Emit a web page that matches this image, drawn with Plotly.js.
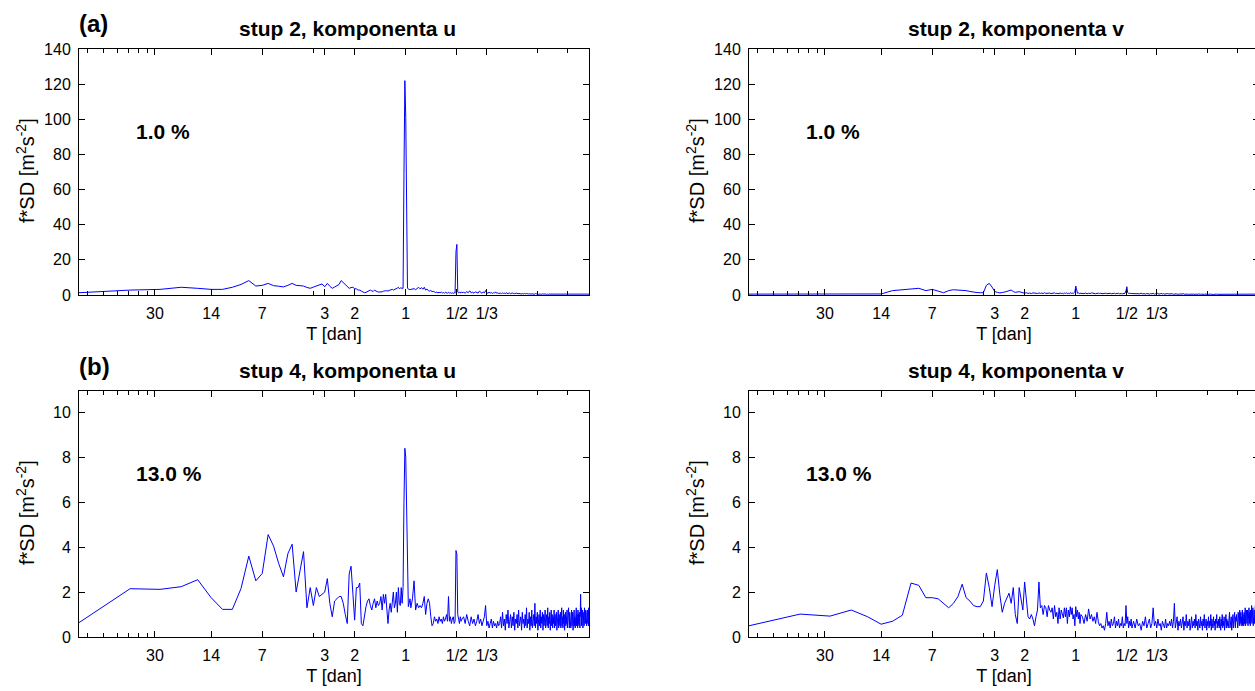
<!DOCTYPE html>
<html><head><meta charset="utf-8">
<script src="https://cdn.plot.ly/plotly-3.0.1.min.js"></script>
<style>html,body{margin:0;padding:0;overflow:hidden;background:#fff}#chart{width:1260px;height:691px}</style>
</head><body><div id="chart"></div><script>
// ---- sampling of the spectra: Fourier harmonics k/RECORD_DAYS (cycles per day) ----
const RECORD_DAYS = 84;
const SEG1 = {start: 1, step: 1};    // harmonics 1..90
const SEG2 = {start: 92, step: 2};   // harmonics 92..180
const SEG3 = {start: 184, step: 4};  // harmonics 184..1008

// ---- x-axis ticks (periods in days) ----
const tickPeriods = [30, 14, 7, 3, 2, 1, 1/2, 1/3];
const tickLabels  = ['30', '14', '7', '3', '2', '1', '1/2', '1/3'];
const minorTickPeriods = [75, 60, 50, 42.857, 37.5, 33.333, 3.5, 1/6, 1/9];

// ---- panel texts ----
const panelTitles = ['stup 2, komponenta u', 'stup 2, komponenta v', 'stup 4, komponenta u', 'stup 4, komponenta v'];
const panelPercent = ['1.0 %', '1.0 %', '13.0 %', '13.0 %'];
const rowLetters = ['(a)', '(b)'];
const xTitle = 'T [dan]';
const yTitle = 'f*SD [m<sup>2</sup>s<sup>-2</sup>]';
const yTicksTop = [0, 20, 40, 60, 80, 100, 120, 140];
const yTicksBottom = [0, 2, 4, 6, 8, 10];

// ---- stup 2, komponenta u ----
const stup2_u_seg1 = [1.3,2.8,3.2,4.4,3.8,3.2,3.2,4.4,6.0,8.2,
5.1,5.5,6.6,5.3,5.0,4.6,5.5,6.6,5.5,5.3,
5.1,4.3,3.8,4.5,5.1,5.3,6.3,4.7,6.6,5.0,
3.8,4.5,5.1,6.0,8.2,7.0,5.7,4.6,3.8,4.2,
4.4,3.6,3.5,2.8,2.8,2.2,1.8,1.3,1.5,2.0,
2.5,2.8,2.4,2.0,2.8,2.2,1.9,1.7,1.7,2.0,
1.8,2.2,2.5,2.4,2.5,2.2,2.6,2.8,3.0,3.2,
2.8,3.0,3.3,3.6,4.0,4.4,3.6,4.0,3.8,3.8,
3.8,69,122,101,42,3.8,3.5,3.2,3.0,3.2];
const stup2_u_seg2 = [3.2,3.6,3.0,3.8,4.4,3.5,4.2,3.3,4.4,2.8,
3.4,2.5,2.2,2.6,1.9,2.1,1.7,1.4,1.6,1.2,
1.5,1.3,1.7,1.1,1.4,1.0,1.5,1.2,1.0,1.6,
1.1,1.3,1.0,1.2,0.9,1.4,1.0,24.7,28.8,1.7,
1.2,1.5,1.1,1.8,1.3];
const stup2_u_seg3 = [1.5,1.1,1.9,1.3,2.4,1.2,1.6,1.0,1.8,1.3,
1.1,2.2,1.4,1.0,1.7,1.2,2.5,1.3,1.0,1.6,
1.1,1.4,0.9,1.3,1.1,1.8,1.0,1.2,0.9,1.1,
1.0,0.8,1.2,0.9,1.1,0.7,1.3,0.8,1.0,0.9,
1.1,0.7,0.9,1.2,0.8,1.0,0.7,0.9,1.1,0.8,
0.9,0.7,1.0,0.8,0.6,0.9,0.7,0.8,0.6,0.9,
0.7,0.6,0.8,0.5,0.7,0.6,0.8,0.5,0.7,0.6,
0.6,0.5,0.7,0.4,0.6,0.5,0.8,0.4,0.6,0.5,
0.7,0.4,0.6,0.5,0.6,0.3,0.7,0.5,0.6,0.4,
0.5,0.6,0.4,0.7,0.5,0.6,0.3,0.6,0.5,0.7,
0.4,0.5,0.5,0.7,0.4,0.6,0.5,0.6,0.4,0.6,
0.5,0.6,0.3,0.7,0.5,0.6,0.4,0.5,0.5,0.7,
0.4,0.6,0.5,0.6,0.4,0.5,0.5,0.6,0.3,0.7,
0.5,0.6,0.4,0.6,0.5,0.5,0.4,0.6,0.5,0.6,
0.4,0.6,0.5,0.7,0.3,0.6,0.5,0.5,0.4,0.6,
0.5,0.5,0.4,0.6,0.5,0.6,0.4,0.6,0.4,0.7,
0.4,0.6,0.5,0.6,0.4,0.5,0.5,0.6,0.3,0.6,
0.5,0.6,0.4,0.6,0.5,0.5,0.4,0.6,0.5,0.6,
0.4,0.5,0.5,0.6,0.4,0.6,0.5,0.6,0.4,0.6,
0.5,0.6,0.4,0.5,0.5,0.6,0.4,0.6,0.5,0.6,
0.4,0.6,0.5,0.6,0.4,0.5,0.5];

// ---- stup 2, komponenta v ----
const stup2_v_seg1 = [0.5,0.5,0.5,0.5,0.5,0.6,2.5,3.0,3.4,3.8,
2.5,3.2,2.2,1.3,2.5,3.0,2.8,2.7,2.5,2.0,
1.5,1.4,1.3,1.3,5.5,6.6,4.5,2.0,1.5,1.2,
1.4,1.5,2.0,2.5,2.8,2.0,1.5,1.7,1.9,1.6,
1.2,1.0,1.3,0.9,1.1,0.8,1.2,0.9,1.0,0.8,
1.2,0.9,1.1,0.8,1.3,0.9,1.0,0.7,1.1,0.8,
1.0,0.9,1.2,0.8,1.0,0.7,0.9,1.1,0.8,1.0,
0.7,1.1,0.9,1.2,0.8,1.0,0.7,1.3,0.9,1.1,
0.8,1.2,1.8,5.1,2.0,1.0,1.2,0.8,1.0,0.9];
const stup2_v_seg2 = [1.0,0.8,1.1,0.7,1.0,0.8,1.2,0.9,1.0,0.7,
0.9,1.1,0.8,1.0,0.7,0.9,0.8,1.0,0.7,0.9,
0.8,1.0,0.7,0.9,0.8,1.0,0.7,0.9,0.8,1.0,
0.7,0.9,0.8,0.7,0.9,0.8,1.0,2.5,4.7,1.2,
0.8,1.0,0.7,0.9,0.8];
const stup2_v_seg3 = [0.8,0.6,0.9,0.5,0.7,1.0,0.6,0.8,0.5,0.9,
0.7,0.5,0.8,0.6,1.0,0.5,0.7,1.3,0.8,0.5,
0.7,0.9,0.6,0.8,0.5,0.7,0.6,0.8,0.6,0.7,
0.6,0.5,0.7,0.4,0.6,0.5,0.7,0.4,0.6,0.5,
0.5,0.6,0.4,0.6,0.5,0.7,0.4,0.5,0.6,0.4,
0.5,0.4,0.6,0.4,0.5,0.6,0.4,0.5,0.4,0.6,
0.4,0.5,0.4,0.5,0.4,0.6,0.4,0.5,0.4,0.5,
0.4,0.5,0.3,0.5,0.4,0.5,0.4,0.4,0.3,0.5,
0.4,0.4,0.5,0.3,0.4,0.5,0.4,0.3,0.4,0.5,
0.3,0.4,0.5,0.4,0.3,0.4,0.5,0.4,0.4,0.3,
0.5,0.4,0.3,0.4,0.5,0.4,0.3,0.4,0.4,0.5,
0.4,0.3,0.4,0.5,0.4,0.3,0.5,0.4,0.3,0.4,
0.4,0.5,0.3,0.4,0.4,0.5,0.4,0.3,0.4,0.5,
0.3,0.4,0.4,0.5,0.3,0.4,0.5,0.4,0.3,0.4,
0.4,0.5,0.4,0.3,0.4,0.4,0.5,0.3,0.4,0.5,
0.4,0.3,0.5,0.4,0.4,0.3,0.4,0.5,0.4,0.3,
0.5,0.4,0.3,0.4,0.5,0.4,0.4,0.3,0.5,0.4,
0.3,0.4,0.5,0.4,0.3,0.5,0.4,0.4,0.3,0.4,
0.4,0.5,0.3,0.4,0.4,0.5,0.3,0.4,0.5,0.4,
0.4,0.3,0.5,0.4,0.4,0.5,0.3,0.4,0.4,0.5,
0.3,0.4,0.5,0.4,0.4,0.3,0.5];

// ---- stup 4, komponenta u ----
const stup4_u_seg1 = [0.64,2.15,2.12,2.24,2.55,1.75,1.23,1.23,2.16,3.6,
2.5,2.83,4.56,4.04,3.27,2.68,3.72,4.13,2.0,2.9,
3.8,1.3,2.2,1.4,2.2,1.8,1.9,2.0,2.6,1.5,
0.9,1.6,1.7,1.8,1.8,1.5,1.0,0.6,2.8,3.15,
1.95,0.75,2.2,2.2,2.4,0.6,0.5,1.0,1.35,1.6,
1.7,1.4,1.2,1.5,1.7,1.3,1.6,1.4,1.5,1.8,
1.2,1.9,1.5,1.9,1.0,0.6,1.2,1.5,1.1,1.8,
2.0,1.3,1.5,2.0,1.1,2.2,1.5,1.4,2.2,1.5,
2.2,6.0,8.4,8.0,5.5,1.95,1.35,1.5,1.7,1.3];
const stup4_u_seg2 = [1.7,2.5,1.2,1.5,1.3,1.4,1.3,1.5,1.8,1.0,
1.5,1.7,1.5,0.9,0.5,0.6,0.9,0.7,0.8,0.6,
0.9,0.7,0.8,0.6,0.9,0.7,0.8,1.0,0.7,1.8,
0.7,0.9,0.6,0.8,0.9,0.6,0.7,3.85,3.7,1.0,
0.8,0.6,0.9,0.7,0.8];
const stup4_u_seg3 = [0.9,0.6,1.0,0.7,0.5,0.9,0.6,0.8,0.5,0.7,
1.0,0.6,0.8,0.5,0.7,0.9,1.4,0.5,0.7,0.4,
0.6,0.8,0.4,0.7,0.5,0.6,0.4,0.7,0.5,0.6,
0.9,0.4,1.1,0.5,0.8,0.3,1.0,0.6,1.2,0.4,
0.7,1.0,0.4,0.9,0.5,1.1,0.3,0.8,0.6,1.0,
0.4,1.2,0.5,0.7,0.9,0.3,1.1,0.6,0.8,0.4,
1.0,0.5,1.3,0.4,0.8,0.6,1.1,0.3,0.9,0.5,
1.2,0.4,0.7,1.0,0.5,1.5,0.4,0.9,0.6,1.1,
0.3,0.8,1.0,0.5,1.2,0.4,0.9,0.6,1.1,0.3,
1.0,0.5,0.8,1.2,0.4,0.7,1.0,0.5,1.3,0.4,
0.9,0.6,1.1,0.3,0.8,1.2,0.5,1.0,0.4,0.9,
0.6,1.2,0.4,1.0,0.5,0.8,1.1,0.3,0.9,0.6,
1.2,0.4,1.0,0.7,0.5,1.1,0.4,0.8,1.3,0.5,
0.9,0.4,1.2,0.6,1.0,0.3,0.8,1.1,0.5,0.9,
0.6,1.2,0.4,1.0,0.5,1.3,0.7,0.4,1.1,0.6,
1.0,0.4,0.9,1.2,0.5,0.8,1.1,0.3,1.0,0.6,
1.2,0.5,0.9,0.4,1.1,0.7,1.3,0.5,0.8,1.0,
0.4,1.2,0.6,1.0,0.5,1.1,0.7,0.4,1.2,1.9,
0.9,1.3,0.5,1.0,0.7,1.2,0.4,1.0,0.6,1.1,
0.5,1.3,0.7,1.0,0.6,1.2,0.8,0.8,0.5,1.1,
0.7,1.2,0.6,1.1,0.5,1.3,0.8];

// ---- stup 4, komponenta v ----
const stup4_v_seg1 = [0.5,1.02,0.93,1.2,0.9,0.57,0.7,0.97,2.4,2.3,
1.75,1.75,1.7,1.5,1.3,1.5,1.8,2.35,1.75,1.6,
1.4,1.35,1.35,1.6,2.85,2.2,1.35,2.3,3.0,1.9,
1.1,1.5,1.75,1.95,1.5,2.2,1.0,0.6,2.2,1.7,
1.2,2.45,1.5,0.9,0.8,1.0,0.8,0.5,0.9,1.2,
2.45,1.3,1.4,1.0,1.4,1.3,0.9,1.4,1.2,1.1,
1.3,0.8,1.4,0.9,1.1,0.6,1.3,0.8,1.2,1.0,
0.85,1.3,0.9,1.3,0.6,1.2,0.9,1.35,1.0,1.3,
0.8,1.0,0.5,1.35,0.9,1.2,0.8,1.1,0.6,1.0];
const stup4_v_seg2 = [0.9,0.6,1.0,0.7,1.25,0.8,1.0,0.7,0.9,0.6,
1.1,0.7,0.5,0.6,0.4,0.5,0.3,0.6,1.1,0.5,
0.7,0.4,0.8,0.5,0.6,0.9,0.4,0.7,0.5,0.8,
0.4,0.6,0.5,0.9,0.4,0.6,0.5,1.4,0.6,0.9,
0.4,0.7,0.5,0.8,0.4];
const stup4_v_seg3 = [0.7,0.4,0.8,0.5,0.6,0.3,0.7,0.5,0.9,0.4,
0.6,0.8,0.4,0.6,1.3,0.5,0.7,0.4,0.8,0.5,
0.6,0.3,0.7,0.5,0.4,0.8,0.4,0.6,0.5,0.7,
0.5,0.8,0.4,0.7,1.5,0.4,0.6,0.9,0.3,0.7,
0.5,0.8,0.4,0.6,0.9,0.3,0.7,0.5,1.0,0.4,
0.7,0.5,0.8,0.3,0.6,0.9,0.4,0.7,0.5,0.8,
0.4,1.0,0.5,0.7,0.3,0.8,0.6,0.4,0.9,0.5,
0.7,0.3,0.8,0.5,1.0,0.4,0.6,0.8,0.3,0.7,
0.5,0.9,0.4,0.7,0.5,1.0,0.3,0.8,0.6,0.4,
0.9,0.5,0.7,0.3,0.8,0.6,1.0,0.4,0.7,0.5,
0.8,0.4,0.9,0.6,0.3,0.8,0.5,1.0,0.4,0.7,
0.5,0.9,0.3,0.7,0.6,1.0,0.4,0.8,0.5,0.7,
0.4,0.9,0.6,1.1,0.4,0.7,0.5,0.9,0.3,0.8,
0.6,1.0,0.4,0.8,0.5,1.1,0.6,0.4,0.9,0.7,
1.0,0.5,0.8,0.4,1.1,0.6,0.9,0.5,1.2,0.6,
0.8,1.1,0.5,0.9,0.6,1.2,0.5,1.0,0.7,0.5,
1.1,0.6,0.9,1.3,0.5,1.0,0.7,1.2,0.6,0.9,
1.2,0.5,1.0,0.7,1.3,0.6,1.1,0.8,0.5,1.2,
0.7,1.0,1.4,0.6,1.1,0.8,1.3,0.5,1.0,0.7,
1.2,0.6,1.1,0.8,1.4,0.7,1.0,1.3,0.6,1.2,
0.8,1.1,0.6,1.3,0.9,1.2,0.7];

// ---- build series from segments ----
function segFreq(seg, n) {
  const out = [];
  for (let i = 0; i < n; i++) out.push((seg.start + i * seg.step) / RECORD_DAYS);
  return out;
}
function series(s1, s2, s3) {
  return {
    x: segFreq(SEG1, s1.length).concat(segFreq(SEG2, s2.length), segFreq(SEG3, s3.length)),
    y: s1.concat(s2, s3)
  };
}
const allSeries = [
  series(stup2_u_seg1, stup2_u_seg2, stup2_u_seg3),
  series(stup2_v_seg1, stup2_v_seg2, stup2_v_seg3),
  series(stup4_u_seg1, stup4_u_seg2, stup4_u_seg3),
  series(stup4_v_seg1, stup4_v_seg2, stup4_v_seg3)
];

// ---- layout ----
const W = 1260, H = 691;
const FONT = 'Arial, "Liberation Sans", sans-serif';
const px = v => v / W, py = v => 1 - v / H;
const xDomL = [px(79), px(589)], xDomR = [px(749), px(1259)];
const yDomT = [py(295), py(49)], yDomB = [py(637), py(391)];

const traces = allSeries.map((s, i) => ({
  type: 'scatter', mode: 'lines', x: s.x, y: s.y,
  xaxis: i === 0 ? 'x' : 'x' + (i + 1), yaxis: i === 0 ? 'y' : 'y' + (i + 1),
  line: {color: '#0000ff', width: 1}, hoverinfo: 'skip'
}));

function xAxis(domain, anchor) {
  return {
    type: 'log', domain: domain, anchor: anchor,
    range: [Math.log10(1 / 84), Math.log10(12)],
    tickmode: 'array', tickvals: tickPeriods.map(p => 1 / p), ticktext: tickLabels,
    ticks: 'inside', ticklen: 6, tickwidth: 1, tickcolor: '#000',
    minor: {tickmode: 'array', tickvals: minorTickPeriods.map(p => 1 / p), ticks: 'inside', ticklen: 4, tickwidth: 1, tickcolor: '#000', showgrid: false},
    showline: true, linecolor: '#000', linewidth: 1, mirror: 'ticks',
    showgrid: false, zeroline: false, fixedrange: true, automargin: false,
    ticklabelstandoff: 4,
    tickfont: {family: FONT, size: 16, color: '#000'},
    title: {text: xTitle, standoff: 6, font: {family: FONT, size: 18, color: '#000'}}
  };
}
function yAxis(domain, anchor, ticks, range) {
  return {
    domain: domain, anchor: anchor, range: range,
    tickmode: 'array', tickvals: ticks, ticktext: ticks.map(String),
    ticks: 'inside', ticklen: 6, tickwidth: 1, tickcolor: '#000',
    showline: true, linecolor: '#000', linewidth: 1, mirror: 'ticks',
    showgrid: false, zeroline: false, fixedrange: true,
    ticklabelstandoff: 4,
    tickfont: {family: FONT, size: 16, color: '#000'}
  };
}

const annotations = [];
function addText(text, x, y, opts) {
  annotations.push(Object.assign({
    text: text, x: x, y: y, xref: 'paper', yref: 'paper',
    showarrow: false, xanchor: 'center', yanchor: 'middle',
    font: {family: FONT, size: 16, color: '#000'}
  }, opts || {}));
}
// row letters
addText('<b>' + rowLetters[0] + '</b>', px(77), py(24), {xanchor: 'left', font: {family: FONT, size: 24, color: '#000'}});
addText('<b>' + rowLetters[1] + '</b>', px(77), py(367), {xanchor: 'left', font: {family: FONT, size: 24, color: '#000'}});
// panel titles, y titles, percentages
const titleCenters = [347, 1016];
const rowTitleY = [28, 370], rowMidY = [171, 513], rowPctY = [131, 473];
for (let r = 0; r < 2; r++) {
  for (let c = 0; c < 2; c++) {
    const idx = r * 2 + c;
    addText('<b>' + panelTitles[idx] + '</b>', px(titleCenters[c]), py(rowTitleY[r]), {font: {family: FONT, size: 21, color: '#000'}});
    addText(yTitle, px(25 + c * 670), py(rowMidY[r]), {textangle: -90, font: {family: FONT, size: 20, color: '#000'}});
    addText('<b>' + panelPercent[idx] + '</b>', px(134 + c * 670), py(rowPctY[r]), {xanchor: 'left', font: {family: FONT, size: 21, color: '#000'}});
  }
}

const layout = {
  width: W, height: H, margin: {l: 0, r: 0, t: 0, b: 0},
  paper_bgcolor: '#fff', plot_bgcolor: '#fff', showlegend: false, hovermode: false,
  xaxis: xAxis(xDomL, 'y'), yaxis: yAxis(yDomT, 'x', yTicksTop, [0, 140]),
  xaxis2: xAxis(xDomR, 'y2'), yaxis2: yAxis(yDomT, 'x2', yTicksTop, [0, 140]),
  xaxis3: xAxis(xDomL, 'y3'), yaxis3: yAxis(yDomB, 'x3', yTicksBottom, [0, 10.95]),
  xaxis4: xAxis(xDomR, 'y4'), yaxis4: yAxis(yDomB, 'x4', yTicksBottom, [0, 10.95]),
  annotations: annotations
};
Plotly.newPlot('chart', traces, layout, {staticPlot: true, displayModeBar: false});
</script></body></html>
